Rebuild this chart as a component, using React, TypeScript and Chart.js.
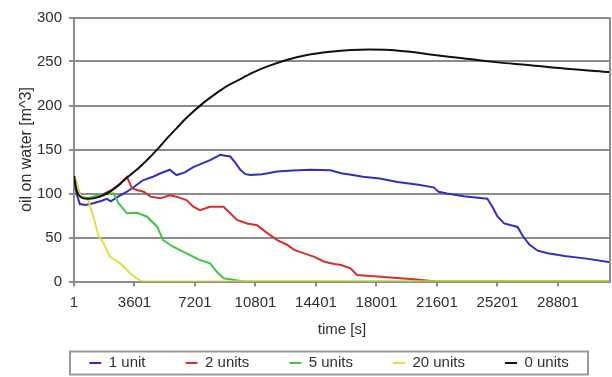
import React, { useEffect, useRef } from "react";
import { Chart, registerables } from "chart.js";

Chart.register(...registerables);

const seriesLabels = ["1 unit", "2 units", "5 units", "20 units", "0 units"];
const seriesColors = ["#3030c0", "#dc2c2c", "#3ec83e", "#e6dc48", "#111111"];

const xTicks = [1, 3601, 7201, 10801, 14401, 18001, 21601, 25201, 28801];
const yTicks = [0, 50, 100, 150, 200, 250, 300];

const blueT = [1, 150, 350, 700, 1150, 1700, 1950, 2200, 2500, 3150, 3600, 4100, 4700, 5150, 5700, 6100, 6600, 7100, 7600, 8100, 8500, 8700, 9000, 9300, 9600, 9900, 10200, 10500, 11200, 12100, 13000, 14100, 15250, 15900, 16400, 17200, 18200, 19250, 20500, 21400, 21700, 22200, 23200, 24600, 24900, 25200, 25600, 26400, 26700, 27100, 27600, 28200, 29200, 30500, 31900];
const blueV = [120, 100, 88, 87, 89, 92, 94, 91, 95, 102, 108, 115, 119, 123, 127, 121, 124, 130, 134, 138, 142, 144, 143, 142, 135, 127, 122, 121, 122, 125, 126, 127, 126.5, 123, 121.5, 119, 117, 113, 110, 107, 102, 100, 97, 94, 85, 74, 66, 62, 52, 42, 35, 32, 29, 26, 22];

const redT = [1, 400, 800, 1150, 1600, 2150, 2700, 3150, 3450, 3750, 4150, 4550, 5150, 5700, 6100, 6700, 7100, 7500, 8100, 8900, 9300, 9700, 10300, 10900, 11500, 12100, 12700, 13100, 13700, 14300, 14900, 15500, 15900, 16450, 16850, 18250, 20200, 21600, 31900];
const redV = [120, 96, 94, 96, 98, 103, 110, 119, 106, 104, 102, 96.4, 94.5, 98, 96.4, 92.6, 85, 81, 85, 85, 77.5, 70, 66, 64, 55, 47, 41.5, 36, 32, 28, 22.5, 20, 18.7, 15, 7.4, 5.5, 2.5, 0, 0];

const greenT = [1, 400, 850, 1550, 2150, 2350, 2650, 3150, 3750, 4350, 4950, 5300, 5900, 6700, 7500, 8100, 8500, 8900, 9300, 10100, 31900];
const greenV = [120, 96, 95, 98, 100, 100, 89, 77.5, 78, 73.6, 62.3, 47, 39.5, 32, 24.4, 20.7, 11, 3.6, 2.5, 0, 0];

const yellowT = [1, 400, 850, 1150, 1450, 1750, 2150, 2750, 3350, 3750, 4050, 31900];
const yellowV = [120, 96, 92.6, 73.6, 52.8, 43.4, 28, 20.7, 9.3, 3.6, 0, 0];

const blackT = [1, 150, 400, 800, 1300, 1950, 2500, 3150, 3800, 4350, 5000, 5550, 6100, 6700, 7700, 8400, 9100, 9900, 10700, 11600, 12700, 13800, 15250, 16500, 17500, 18800, 20000, 21200, 23000, 25200, 27000, 29150, 31900];
const blackV = [120, 104, 96, 94, 95, 100, 107, 118, 128, 138, 151, 163, 174, 186, 203, 213, 222, 230, 238, 245, 252, 257, 261, 263, 263.5, 263, 261, 258, 254, 249, 246, 242, 238];

const seriesT = [blueT, redT, greenT, yellowT, blackT];
const seriesV = [blueV, redV, greenV, yellowV, blackV];

const gridColor = "#8c8c8c";
const textColor = "#2e2e2e";
const FONT = "'Liberation Sans', Arial, sans-serif";

const framePlugin = {
  id: "frame",
  afterLayout(chart: any) {
    const lg = chart.legend;
    if (lg) {
      lg.left = 48;
      lg.width = lg.right - lg.left;
    }
  },
  afterDraw(chart: any) {
    const { ctx, chartArea } = chart;
    ctx.save();
    ctx.strokeStyle = gridColor;
    ctx.lineWidth = 2;
    ctx.beginPath();
    ctx.moveTo(chartArea.right, chartArea.top);
    ctx.lineTo(chartArea.right, chartArea.bottom);
    ctx.stroke();
    const lg = chart.legend;
    if (lg && lg.legendHitBoxes && lg.legendHitBoxes.length) {
      const hb = lg.legendHitBoxes;
      const cx = (lg.left + lg.right) / 2;
      const t = hb[0].top - 4;
      const b = hb[0].top + hb[0].height + 4;
      ctx.strokeStyle = "#9a9a9a";
      ctx.strokeRect(cx - 259, t, 518, b - t);
    }
    ctx.restore();
  },
};

export default function App() {
  const ref = useRef<HTMLCanvasElement | null>(null);
  useEffect(() => {
    document.body.style.margin = "0";
    const canvas = ref.current;
    if (!canvas) return;
    Chart.defaults.font.family = FONT;
    const datasets = seriesLabels.map((label, i) => ({
      label,
      data: seriesT[i].map((t, j) => ({ x: t, y: seriesV[i][j] })),
      borderColor: seriesColors[i],
      backgroundColor: seriesColors[i],
      borderWidth: 2,
      pointRadius: 0,
      tension: 0,
      cubicInterpolationMode: i === 4 ? ("monotone" as const) : ("default" as const),
      order: 5 - i,
    }));
    const chart = new Chart(canvas, {
      type: "line",
      data: { datasets },
      plugins: [framePlugin],
      options: {
        animation: false,
        responsive: false,
        events: [],
        layout: { padding: { left: 0, right: 2, top: 17.5, bottom: -3.5 } },
        plugins: {
          tooltip: { enabled: false },
          legend: {
            position: "bottom",
            labels: {
              usePointStyle: true,
              pointStyle: "line",
              pointStyleWidth: 12,
              boxHeight: 15,
              padding: 40,
              color: textColor,
              font: { size: 15, family: FONT },
              sort: (a: any, b: any) => a.datasetIndex - b.datasetIndex,
            },
          },
        },
        scales: {
          x: {
            type: "linear",
            min: 1,
            max: 31900,
            afterBuildTicks: (s: any) => {
              s.ticks = xTicks.map((v) => ({ value: v }));
            },
            afterFit: (s: any) => {
              s.height = 34;
            },
            ticks: {
              autoSkip: false,
              maxRotation: 0,
              padding: 7,
              color: textColor,
              font: { size: 15, family: FONT },
              callback: (v: any) => String(v),
            },
            grid: { drawOnChartArea: false, tickLength: 5, color: gridColor, lineWidth: 2 },
            border: { color: gridColor, width: 2 },
            title: {
              display: true,
              text: "time [s]",
              color: textColor,
              font: { size: 15, family: FONT },
              padding: { top: 0, bottom: -23.5 },
            },
          },
          y: {
            min: 0,
            max: 300,
            afterBuildTicks: (s: any) => {
              s.ticks = yTicks.map((v) => ({ value: v }));
            },
            afterFit: (s: any) => {
              s.width = 74;
            },
            ticks: {
              padding: 7,
              color: textColor,
              font: { size: 15, family: FONT },
            },
            grid: { color: gridColor, lineWidth: 2, tickLength: 5 },
            border: { color: gridColor, width: 2 },
            title: {
              display: true,
              text: "oil on water [m^3]",
              color: textColor,
              font: { size: 16, family: FONT },
              padding: { top: 17.4, bottom: 0 },
            },
          },
        },
      },
    });
    return () => chart.destroy();
  }, []);
  return (
    <div style={{ width: 612, height: 377, background: "#fff" }}>
      <canvas ref={ref} width={612} height={377} style={{ display: "block" }} />
    </div>
  );
}
